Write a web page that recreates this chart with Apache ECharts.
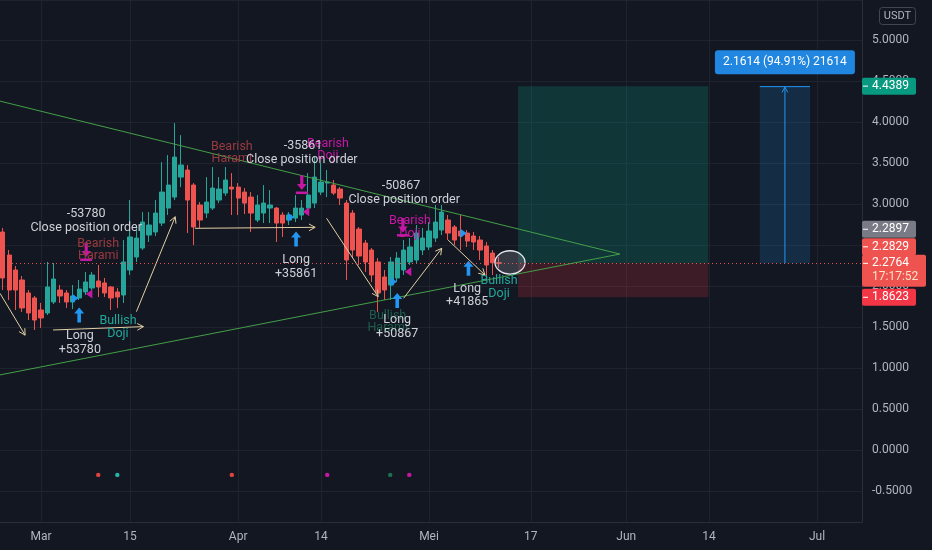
<!DOCTYPE html>
<html>
<head>
<meta charset="utf-8">
<script src="https://cdn.jsdelivr.net/npm/echarts@6/dist/echarts.min.js"></script>
<style>
html,body{margin:0;padding:0;background:#131722;}
#c{width:932px;height:550px;}
</style>
</head>
<body>
<div id="c"></div>
<script>
// ---------------- DATA ----------------
const startDate = '2024-02-24';           // first candle (day index 0)
const openP  = [2.659,2.378,2.195,2.073,1.915,1.854,1.707,1.671,1.805,1.951,1.915,1.805,1.854,1.927,1.976,2.061,2.037,1.988,1.927,1.890,
                2.195,2.354,2.463,2.622,2.659,2.768,2.951,3.085,3.329,3.415,3.232,2.988,2.890,2.951,3.049,3.134,3.207,3.207,3.146,3.085,
                2.805,2.890,2.951,2.951,2.866,2.805,2.829,2.866,2.951,3.012,3.146,3.256,3.232,3.183,3.012,2.890,2.695,2.524,2.439,2.293,
                2.110,2.012,2.098,2.195,2.293,2.317,2.439,2.476,2.585,2.683,2.805,2.720,2.671,2.646,2.610,2.561,2.488,2.402,2.2829];
const closeP = [2.098,1.951,1.951,1.732,1.671,1.585,1.610,1.988,2.085,1.878,1.805,1.878,1.963,2.049,2.134,1.988,1.915,1.854,1.866,2.293,
                2.598,2.585,2.780,2.744,2.890,3.146,3.232,3.573,3.476,3.049,2.720,2.805,3.024,3.195,3.183,3.293,3.183,3.073,3.012,2.890,
                2.988,3.012,2.988,2.768,2.768,2.866,2.951,2.951,3.110,3.329,3.268,3.268,3.134,3.073,2.317,2.439,2.366,2.293,2.134,1.915,
                1.951,2.293,2.341,2.439,2.476,2.646,2.585,2.671,2.780,2.902,2.646,2.561,2.610,2.549,2.537,2.439,2.256,2.283,2.2764];
const lowP   = [1.951,1.829,1.707,1.683,1.585,1.463,1.488,1.646,1.780,1.793,1.732,1.720,1.829,1.890,1.951,1.866,1.866,1.707,1.732,1.793,
                2.134,2.293,2.439,2.537,2.610,2.732,2.866,3.049,3.207,2.646,2.500,2.707,2.829,2.927,3.012,3.098,2.866,2.866,2.878,2.659,
                2.780,2.768,2.768,2.537,2.598,2.744,2.780,2.805,2.927,2.951,3.110,3.085,3.110,2.988,2.073,2.341,2.256,2.171,2.049,1.683,
                1.829,1.829,2.049,2.134,2.256,2.280,2.378,2.439,2.537,2.622,2.561,2.500,2.439,2.476,2.439,2.317,2.073,2.134,2.220];
const highP  = [2.707,2.439,2.244,2.122,1.951,1.878,1.793,2.293,2.280,2.012,1.951,2.012,2.073,2.171,2.171,2.256,2.098,2.000,1.976,2.561,
                3.049,2.707,2.902,2.902,3.049,3.512,3.598,3.988,3.841,3.476,3.256,3.024,3.329,3.451,3.329,3.451,3.378,3.256,3.195,3.146,
                3.110,3.232,3.171,2.963,2.902,2.902,3.110,3.049,3.378,3.573,3.500,3.415,3.293,3.207,3.049,2.927,2.720,2.561,2.463,2.341,
                2.195,2.354,2.415,2.561,2.585,2.744,2.707,2.780,2.988,2.988,2.866,2.744,2.866,2.683,2.659,2.610,2.537,2.439,2.354];
const lastPrice = 2.2764;

const tickDates  = ['2024-03-01','2024-03-15','2024-04-01','2024-04-14','2024-05-01','2024-05-17','2024-06-01','2024-06-14','2024-07-01'];
const tickLabels = ['Mar','15','Apr','14','Mei','17','Jun','14','Jul'];

// drawings, in (day index, price) data space
const trendLines = [[-0.44, 4.256, 97.0, 2.39], [-0.44, 0.915, 97.0, 2.39]];
const pathArrows = [
  [-0.44, 1.91, 3.5, 1.40],
  [7.9, 1.463, 22.1, 1.504],
  [21.0, 1.687, 27.1, 2.845],
  [30.2, 2.704, 49.1, 2.716],
  [50.9, 2.826, 59.0, 1.87],
  [63.0, 1.85, 69.0, 2.46],
  [70.0, 2.561, 75.8, 2.134]
];
const orderNotes = [
  [13.1, 2.878, '-53780'], [13.1, 2.707, 'Close position order'], [12.1, 1.390, 'Long'], [12.1, 1.220, '+53780'],
  [47.2, 3.707, '-35861'], [47.0, 3.537, 'Close position order'], [46.1, 2.317, 'Long'], [46.1, 2.146, '+35861'],
  [62.6, 3.220, '-50867'], [63.1, 3.049, 'Close position order'], [62.0, 1.585, 'Long'], [62.0, 1.415, '+50867'],
  [73.0, 1.963, 'Long'], [73.0, 1.805, '+41865']
];
const patternNotes = [
  [15.0, 2.512, 'Bearish', 'bearHarami'], [15.0, 2.366, 'Harami', 'bearHarami'],
  [36.0, 3.695, 'Bearish', 'bearHarami'], [36.0, 3.549, 'Harami', 'bearHarami'],
  [51.1, 3.732, 'Bearish', 'bearDoji'], [51.1, 3.585, 'Doji', 'bearDoji'],
  [64.0, 2.793, 'Bearish', 'bearDoji'], [64.0, 2.634, 'Doji', 'bearDoji'],
  [18.1, 1.573, 'Bullish', 'bullDoji'], [18.1, 1.415, 'Doji', 'bullDoji'],
  [78.0, 2.061, 'Bullish', 'bullDoji'], [78.0, 1.902, 'Doji', 'bullDoji'],
  [60.5, 1.634, 'Bullish', 'bullHarami'], [60.5, 1.490, 'Harami', 'bullHarami']
];
const longEntries   = [[12.0, 1.646], [46.1, 2.573], [62.0, 1.823], [73.2, 2.216]];
const closeOrders   = [[13.1, 2.415], [47.0, 3.232], [62.9, 2.713]];
const entryFlags    = [[11.35, 1.85], [45.25, 2.838], [61.4, 2.053], [72.4, 2.643]];
const exitFlags     = [[13.6, 1.902], [47.7, 2.906], [63.75, 2.174]];
const patternDots   = [[15.0, 'bearHarami'], [18.0, 'bullDoji'], [36.0, 'bearHarami'], [51.0, 'bearDoji'], [60.9, 'bullHarami'], [63.9, 'bearDoji']];
const dotLevel = -0.305;
const positionTool = {start: 81.0, end: 110.9, entry: 2.2764, target: 4.4389, stop: 1.8623};
const measureTool  = {start: 119.0, end: 126.9, from: 2.2764, to: 4.4389, text: '2.1614 (94.91%) 21614'};
const focusEllipse = [77.37, 2.43, 82.09, 2.146];
const badges = [
  {value: 4.4389, text: '4.4389', kind: 'target'},
  {value: 2.2897, text: '2.2897', kind: 'prev'},
  {value: 2.2829, text: '2.2829', kind: 'open'},
  {value: 2.2764, text: '2.2764', sub: '17:17:52', kind: 'last'},
  {value: 1.8623, text: '1.8623', kind: 'stop'}
];

// ---------------- STYLE / LAYOUT ----------------
const FONT = 'Roboto, "Liberation Sans", Arial, sans-serif';
const GRID = '#1f232e';
const UP = '#26a69a', DOWN = '#ef5350';
const BLUE = '#2196f3', PINK = '#c418a4';
const TEXTC = '#cfd1d8';
const NOTE_SIZE = 12.5;
const KIND_COLOR = {bearHarami: '#9a3a40', bearDoji: '#c418a4', bullDoji: '#20a89b', bullHarami: '#1d5e4c'};
const DOT_COLOR = {bearHarami: '#e0443c', bearDoji: '#c418a4', bullDoji: '#26b5a6', bullHarami: '#1e6e50'};
const BADGE_COLOR = {target: '#089981', prev: '#787b86', open: '#ef5350', last: '#ef5350', stop: '#f23645'};
const badgeShift = [0, -33, -16, 0, 0];
const X_MIN = -0.446, X_MAX = 135.07;
const Y_MIN = -0.88, Y_MAX = 5.49;

// ---------------- BUILD ----------------
const DAY = 86400000;
function utc(s){ const a = s.split('-').map(Number); return Date.UTC(a[0], a[1]-1, a[2]); }
const t0 = utc(startDate);
function dayIndex(s){ return Math.round((utc(s) - t0) / DAY); }
const tickIdx = tickDates.map(dayIndex);
const candleData = openP.map((o, i) => [i, o, closeP[i], lowP[i], highP[i]]);

function rectBetween(api, x1, y1, x2, y2){
  const a = api.coord([x1, y1]), b = api.coord([x2, y2]);
  return {x: Math.min(a[0], b[0]), y: Math.min(a[1], b[1]), width: Math.abs(b[0]-a[0]), height: Math.abs(b[1]-a[1])};
}
function arrowEl(p1, p2, color, head){
  const ang = Math.atan2(p2[1]-p1[1], p2[0]-p1[0]);
  const a1 = ang + Math.PI - 0.5, a2 = ang + Math.PI + 0.5;
  return {type: 'group', children: [
    {type: 'line', shape: {x1: p1[0], y1: p1[1], x2: p2[0], y2: p2[1]}, style: {stroke: color, lineWidth: 1}},
    {type: 'polyline', shape: {points: [[p2[0]+head*Math.cos(a1), p2[1]+head*Math.sin(a1)], [p2[0], p2[1]], [p2[0]+head*Math.cos(a2), p2[1]+head*Math.sin(a2)]]},
      style: {stroke: color, lineWidth: 1, fill: 'none'}}
  ]};
}
function poly(p, pts, color){
  return {type: 'polygon', shape: {points: pts.map(q => [p[0]+q[0], p[1]+q[1]])}, style: {fill: color}};
}
function overlay(items, z, draw, dataFn){
  return {
    type: 'custom', z: z, silent: true, clip: false, animation: false,
    data: items.map(dataFn || (it => [it[0], it[1]])),
    renderItem: (params, api) => draw(items[params.dataIndex], api, params)
  };
}

const series = [
  // vertical grid lines at the time ticks
  overlay(tickIdx, 1, (d, api, params) => {
    const cs = params.coordSys;
    const x = Math.round(api.coord([d, 0])[0]) + 0.5;
    return {type: 'line', shape: {x1: x, y1: cs.y, x2: x, y2: cs.y + cs.height}, style: {stroke: GRID, lineWidth: 1}};
  }, d => [d, 0]),
  // long position tool
  overlay([positionTool], 1, (t, api) => ({type: 'group', children: [
    {type: 'rect', shape: rectBetween(api, t.start, t.target, t.end, t.entry), style: {fill: 'rgba(8,153,129,0.24)'}},
    {type: 'rect', shape: rectBetween(api, t.start, t.entry, t.end, t.stop), style: {fill: 'rgba(242,54,69,0.19)'}}
  ]}), t => [t.start, t.entry]),
  // candles
  {
    type: 'candlestick', z: 2, barWidth: 4.8, data: candleData,
    encode: {x: 0, y: [1, 2, 3, 4]},
    itemStyle: {color: UP, color0: DOWN, borderColor: UP, borderColor0: DOWN, borderWidth: 1},
    markLine: {
      silent: true, symbol: ['none', 'none'], animation: false,
      label: {show: false},
      lineStyle: {color: DOWN, type: [1, 3], width: 1},
      data: [{yAxis: lastPrice}]
    }
  },
  // trend lines
  overlay(trendLines, 3, (l, api) => {
    const a = api.coord([l[0], l[1]]), b = api.coord([l[2], l[3]]);
    return {type: 'line', shape: {x1: a[0], y1: a[1], x2: b[0], y2: b[1]}, style: {stroke: '#43a047', lineWidth: 1}};
  }),
  // path arrows
  overlay(pathArrows, 3, (l, api) => arrowEl(api.coord([l[0], l[1]]), api.coord([l[2], l[3]]), '#e2cfa4', 7)),
  // measure tool
  overlay([measureTool], 3, (m, api) => {
    const r = rectBetween(api, m.start, m.to, m.end, m.from);
    const cx = r.x + r.width / 2;
    const bw = 140, bh = 24;
    return {type: 'group', children: [
      {type: 'rect', shape: r, style: {fill: 'rgba(33,150,243,0.17)'}},
      {type: 'line', shape: {x1: r.x, y1: r.y + 0.5, x2: r.x + r.width, y2: r.y + 0.5}, style: {stroke: BLUE, lineWidth: 1}},
      arrowEl([cx, r.y + r.height], [cx, r.y + 1], BLUE, 6),
      {type: 'rect', shape: {x: cx - bw / 2, y: r.y - 12 - bh, width: bw, height: bh, r: 3}, style: {fill: '#2186df'}},
      {type: 'text', x: cx, y: r.y - 12 - bh / 2, style: {text: m.text, fill: '#ffffff', fontSize: 12, fontFamily: FONT, align: 'center', verticalAlign: 'middle'}}
    ]};
  }, m => [m.start, m.from]),
  // focus ellipse
  overlay([focusEllipse], 4, (e, api) => {
    const a = api.coord([e[0], e[1]]), b = api.coord([e[2], e[3]]);
    const cx = (a[0] + b[0]) / 2, cy = (a[1] + b[1]) / 2, rx = Math.abs(b[0] - a[0]) / 2, ry = Math.abs(b[1] - a[1]) / 2;
    const d = 'M' + (cx - rx) + ' ' + cy + ' A' + rx + ' ' + ry + ' 0 1 0 ' + (cx + rx) + ' ' + cy +
              ' A' + rx + ' ' + ry + ' 0 1 0 ' + (cx - rx) + ' ' + cy + ' Z';
    return {type: 'path', shape: {pathData: d}, style: {fill: 'rgba(160,164,176,0.25)', stroke: '#e6e8ee', lineWidth: 1.3}};
  }, e => [e[0], e[1]]),
  // strategy markers
  overlay(longEntries, 4, (p, api) => poly(api.coord(p), [[0,-7.5],[5,-1.5],[1.8,-1.5],[1.8,7.5],[-1.8,7.5],[-1.8,-1.5],[-5,-1.5]], BLUE)),
  overlay(closeOrders, 4, (p, api) => {
    const c = api.coord(p);
    return {type: 'group', children: [
      poly(c, [[-1.6,-9.5],[1.6,-9.5],[1.6,-1],[4.8,-1],[0,5],[-4.8,-1],[-1.6,-1]], PINK),
      {type: 'rect', shape: {x: c[0] - 6, y: c[1] + 6.5, width: 12, height: 2.5}, style: {fill: PINK}}
    ]};
  }),
  overlay(entryFlags, 4, (p, api) => poly(api.coord(p), [[-3,-4.5],[3.5,0],[-3,4.5]], BLUE)),
  overlay(exitFlags, 4, (p, api) => poly(api.coord(p), [[3,-4.5],[-3.5,0],[3,4.5]], PINK)),
  // pattern dots
  overlay(patternDots, 3, (p, api) => {
    const c = api.coord([p[0], dotLevel]);
    return {type: 'circle', shape: {cx: c[0], cy: c[1], r: 2.2}, style: {fill: DOT_COLOR[p[1]]}};
  }, p => [p[0], dotLevel]),
  // texts
  overlay(patternNotes, 5, (n, api) => {
    const c = api.coord([n[0], n[1]]);
    return {type: 'text', x: c[0], y: c[1], style: {text: n[2], fill: KIND_COLOR[n[3]], fontSize: NOTE_SIZE, fontFamily: FONT, align: 'center', verticalAlign: 'middle'}};
  }),
  overlay(orderNotes, 6, (n, api) => {
    const c = api.coord([n[0], n[1]]);
    return {type: 'text', x: c[0], y: c[1], style: {text: n[2], fill: TEXTC, fontSize: NOTE_SIZE, fontFamily: FONT, align: 'center', verticalAlign: 'middle'}};
  }),
  // price badges on the axis
  overlay(badges, 10, (b, api, params) => {
    const i = params.dataIndex;
    const cs = params.coordSys;
    const x0 = cs.x + cs.width;
    const yc = api.coord([0, b.value])[1] + badgeShift[i];
    const h = b.sub ? 32 : 17;
    const w = b.sub ? 64 : 54;
    const ch = [
      {type: 'rect', shape: {x: x0, y: yc - 8.5, width: w, height: h, r: 2}, style: {fill: BADGE_COLOR[b.kind]}},
      {type: 'line', shape: {x1: x0 + 1, y1: yc, x2: x0 + 6, y2: yc}, style: {stroke: '#ffffff', lineWidth: 1}},
      {type: 'text', x: x0 + 10, y: yc, style: {text: b.text, fill: '#ffffff', fontSize: 12, fontFamily: FONT, align: 'left', verticalAlign: 'middle'}}
    ];
    if (b.sub) ch.push({type: 'text', x: x0 + 10, y: yc + 14, style: {text: b.sub, fill: '#fbe3c6', fontSize: 12, fontFamily: FONT, align: 'left', verticalAlign: 'middle'}});
    return {type: 'group', children: ch};
  }, b => [X_MAX, b.value])
];

const chart = echarts.init(document.getElementById('c'), null, {renderer: 'canvas'});
chart.setOption({
  backgroundColor: '#131722',
  animation: false,
  textStyle: {fontFamily: FONT},
  grid: {left: 0, right: 70, top: 0, bottom: 28, containLabel: false, outerBoundsMode: 'none'},
  xAxis: {
    type: 'value', min: X_MIN, max: X_MAX,
    axisLine: {show: true, onZero: false, lineStyle: {color: '#2a2e39'}},
    axisTick: {show: false},
    splitLine: {show: false},
    axisLabel: {
      customValues: tickIdx, color: '#b2b5be', fontSize: 12, fontFamily: FONT, margin: 9,
      formatter: v => { const k = tickIdx.indexOf(Math.round(v)); return k >= 0 ? tickLabels[k] : ''; }
    }
  },
  yAxis: {
    type: 'value', position: 'right', min: Y_MIN, max: Y_MAX, splitNumber: 12,
    axisLine: {show: true, onZero: false, lineStyle: {color: '#2a2e39'}},
    axisTick: {show: false},
    splitLine: {show: true, lineStyle: {color: GRID, width: 1}},
    axisLabel: {
      color: '#b2b5be', fontSize: 12, fontFamily: FONT, margin: 10, showMinLabel: false, showMaxLabel: false,
      formatter: v => (Math.abs(v * 2 - Math.round(v * 2)) < 1e-6 ? v.toFixed(4) : '')
    }
  },
  graphic: [
    {type: 'rect', z: 100, shape: {x: 879.5, y: 7.5, width: 36, height: 17, r: 3}, style: {fill: '#131722', stroke: '#434651', lineWidth: 1}},
    {type: 'text', z: 101, x: 897.5, y: 16, style: {text: 'USDT', fill: '#b2b5be', fontSize: 11, fontFamily: FONT, align: 'center', verticalAlign: 'middle'}}
  ],
  series: series
});
</script>
</body>
</html>
